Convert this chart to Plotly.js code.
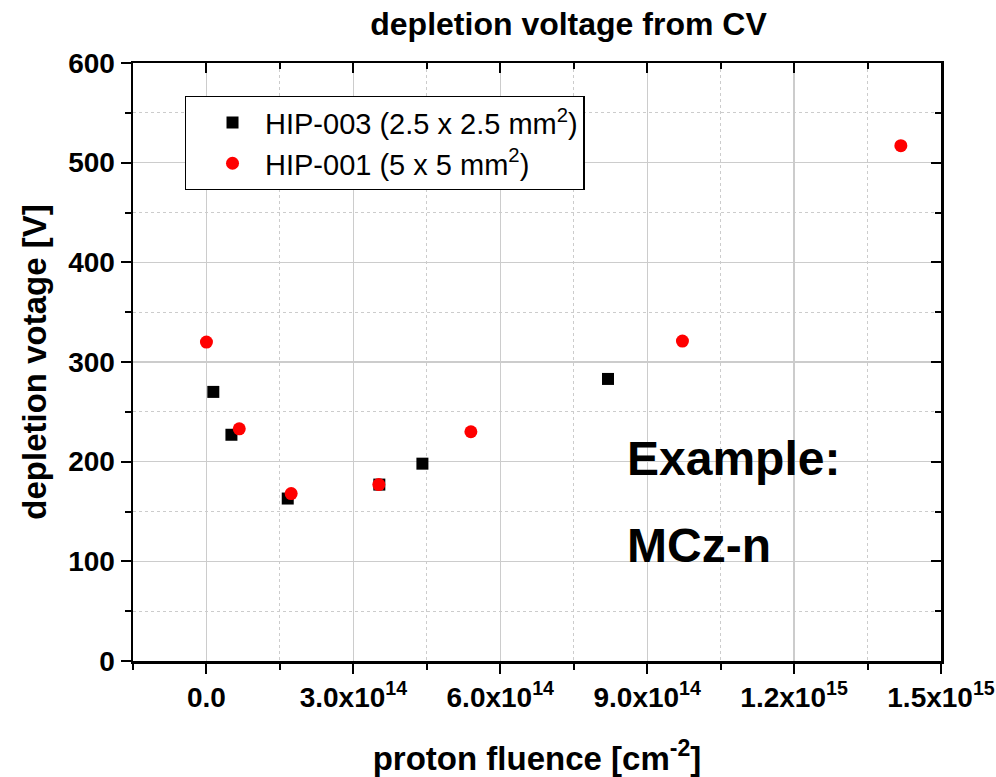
<!DOCTYPE html>
<html>
<head>
<meta charset="utf-8">
<script src="https://cdn.plot.ly/plotly-3.0.1.min.js"></script>
<style>html,body{margin:0;padding:0;background:#fff;}#chart{width:996px;height:777px;}</style>
</head>
<body>
<div id="chart"></div>
<script>
// Series HIP-003 (2.5 x 2.5 mm^2)
const hip003Fluence = [1.4e13, 5.1e13, 1.66e14, 3.53e14, 4.41e14, 8.2e14];
const hip003Voltage = [270, 227, 163, 177, 198, 283];
// Series HIP-001 (5 x 5 mm^2)
const hip001Fluence = [0, 6.7e13, 1.73e14, 3.52e14, 5.4e14, 9.72e14, 1.418e15];
const hip001Voltage = [320, 233, 168, 177, 230, 321, 517];
// Axis tick labels
const xTickVals = [0, 3e14, 6e14, 9e14, 1.2e15, 1.5e15];
const xTickText = ['0.0', '3.0x10<sup>14</sup>', '6.0x10<sup>14</sup>', '9.0x10<sup>14</sup>', '1.2x10<sup>15</sup>', '1.5x10<sup>15</sup>'];
const yTickVals = [0, 100, 200, 300, 400, 500, 600];
const xRange = [-1.5e14, 1.5e15];
const yRange = [0, 600];

const FONT = 'Liberation Sans, Arial, Helvetica, sans-serif';

const traces = [
  {
    x: hip003Fluence, y: hip003Voltage, type: 'scatter', mode: 'markers',
    name: 'HIP-003 (2.5 x 2.5 mm<sup>2</sup>)',
    marker: {symbol: 'square', size: 12, color: '#000000'}
  },
  {
    x: hip001Fluence, y: hip001Voltage, type: 'scatter', mode: 'markers',
    name: 'HIP-001 (5 x 5 mm<sup>2</sup>)',
    marker: {symbol: 'circle', size: 13, color: '#ff0000'}
  },
  // empty trace that only activates the mirrored (top/right) tick axes
  {x: [], y: [], type: 'scatter', mode: 'markers', xaxis: 'x2', yaxis: 'y2', showlegend: false, hoverinfo: 'skip'}
];

const gridCommon = {showgrid: true, gridcolor: '#cccccc', gridwidth: 1.3};
const minorGrid = {showgrid: true, gridcolor: '#cccccc', griddash: 'dot', gridwidth: 1};

const layout = {
  width: 996, height: 777,
  margin: {l: 133, r: 55, t: 63, b: 116},
  paper_bgcolor: '#ffffff', plot_bgcolor: '#ffffff',
  font: {family: FONT, color: '#000'},
  title: {text: '<b>depletion voltage from CV</b>', font: {size: 32, family: FONT},
          x: 0.539, xanchor: 'center', xref: 'paper', yref: 'container', y: 0.970, yanchor: 'middle'},
  xaxis: Object.assign({
    range: xRange, automargin: false,
    tickmode: 'array', tickvals: xTickVals, ticktext: xTickText,
    ticks: 'outside', ticklen: 10, tickwidth: 2, tickcolor: '#000',
    showline: true, linewidth: 2.5, linecolor: '#000', mirror: true,
    zeroline: false,
    tickfont: {size: 28, family: FONT, weight: 'bold'},
    minor: Object.assign({tickmode: 'linear', tick0: -1.5e14, dtick: 3e14, ticks: 'outside', ticklen: 6, tickwidth: 2, tickcolor: '#000'}, minorGrid),
    title: {text: '<b>proton fluence [cm<sup>-2</sup>]</b>', font: {size: 33, family: FONT}, standoff: 36}
  }, gridCommon),
  yaxis: Object.assign({
    range: yRange, automargin: false,
    tickmode: 'array', tickvals: yTickVals,
    ticks: 'outside', ticklen: 10, tickwidth: 2, tickcolor: '#000',
    showline: true, linewidth: 2.5, linecolor: '#000', mirror: true,
    zeroline: false,
    tickfont: {size: 28, family: FONT, weight: 'bold'},
    minor: Object.assign({tickmode: 'linear', tick0: 50, dtick: 100, ticks: 'outside', ticklen: 6, tickwidth: 2, tickcolor: '#000'}, minorGrid),
    title: {text: '<b>depletion votage [V]</b>', font: {size: 33, family: FONT}, standoff: 12}
  }, gridCommon),
  xaxis2: {
    overlaying: 'x', anchor: 'y2', side: 'top', range: xRange, automargin: false,
    tickmode: 'array', tickvals: xTickVals, showticklabels: false,
    ticks: 'inside', ticklen: 10, tickwidth: 2, tickcolor: '#000',
    showline: false, showgrid: false, zeroline: false,
    minor: {tickmode: 'linear', tick0: -1.5e14, dtick: 3e14, ticks: 'inside', ticklen: 6, tickwidth: 2, tickcolor: '#000', showgrid: false}
  },
  yaxis2: {
    overlaying: 'y', anchor: 'x2', side: 'right', range: yRange, automargin: false,
    tickmode: 'array', tickvals: yTickVals, showticklabels: false,
    ticks: 'inside', ticklen: 10, tickwidth: 2, tickcolor: '#000',
    showline: false, showgrid: false, zeroline: false,
    minor: {tickmode: 'linear', tick0: 50, dtick: 100, ticks: 'inside', ticklen: 6, tickwidth: 2, tickcolor: '#000', showgrid: false}
  },
  showlegend: true,
  legend: {
    x: 0.064, y: 0.945, xanchor: 'left', yanchor: 'top',
    bgcolor: '#ffffff', bordercolor: '#000', borderwidth: 1.3,
    font: {size: 29, family: FONT},
    indentation: 14, itemwidth: 55, tracegroupgap: 0
  },
  annotations: [
    {xref: 'paper', yref: 'paper', x: 0.609, y: 0.338, xanchor: 'left', yanchor: 'middle', showarrow: false,
     text: '<b>Example:</b>', font: {size: 48, family: FONT}},
    {xref: 'paper', yref: 'paper', x: 0.609, y: 0.193, xanchor: 'left', yanchor: 'middle', showarrow: false,
     text: '<b>MCz-n</b>', font: {size: 48, family: FONT}}
  ]
};

Plotly.newPlot('chart', traces, layout, {displayModeBar: false, staticPlot: true});
</script>
</body>
</html>
